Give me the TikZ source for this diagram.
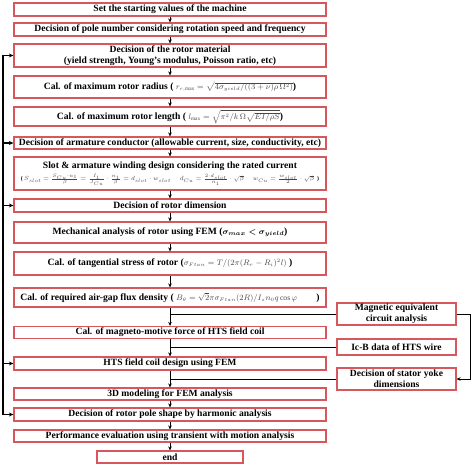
\documentclass[tikz,border=0pt]{standalone}
\usepackage{amsmath}
\usepackage{fontspec}
\setmainfont{Liberation Serif}
\usetikzlibrary{arrows.meta}
\definecolor{boxred}{RGB}{214,88,92}
\definecolor{mathgray}{RGB}{70,70,70}
\newcommand\eqm[1]{{\fontsize{7.6}{9}\selectfont\textcolor{mathgray}{\mdseries$#1$}}}
\newcommand\eqs[1]{\textcolor{mathgray}{\mdseries$#1$}}
\begin{document}
\begin{tikzpicture}[x=1pt,y=-1pt,
 mbox/.style={draw=boxred, line width=1.2pt, fill=white, minimum width=312pt, inner sep=0pt, align=center, font=\bfseries\fontsize{9.6}{11}\selectfont},
 sbox/.style={mbox, minimum width=119pt},
 arr/.style={-{Stealth[length=4pt,width=3.6pt]}, line width=1pt},
 fb/.style={line width=1.6pt},
 fbarr/.style={fb, -{Stealth[length=4.5pt,width=4pt]}},
 link/.style={line width=1pt},
]
\useasboundingbox (0,0) rectangle (474,468);

\node[mbox, minimum height=13pt] (b1) at (170,9.5) {Set the starting values of the machine};
\node[mbox, minimum height=13pt] (b2) at (170,29.5) {Decision of pole number considering rotation speed and frequency};
\node[mbox, minimum height=23pt] (b3) at (170,55.5) {Decision of the rotor material\\(yield strength, Young's modulus, Poisson ratio, etc)};
\node[mbox, minimum height=22pt] (b4) at (170,87) {Cal. of maximum rotor radius ( \eqm{r_{r,\max}=\sqrt{4\sigma_{yield}/((3+\nu)\rho\,\Omega^{2})}})};
\node[mbox, minimum height=19pt] (b5) at (170,116.5) {Cal. of maximum rotor length ( \eqm{l_{\max}=\sqrt{\pi^{2}/k\,\Omega\sqrt{EI/\rho S}}})};
\node[mbox, minimum height=12pt] (b6) at (170,143) {Decision of armature conductor (allowable current, size, conductivity, etc)};
\node[mbox, minimum height=33pt] (b7) at (170,173.5) {Slot \& armature winding design considering the rated current\\[1.5pt]
{\fontsize{5.8}{7}\selectfont ( \eqs{S_{slot}=\frac{S_{Cu}\cdot n_1}{\beta}=\frac{I_1}{J_{Cu}}\cdot\frac{n_1}{\beta}=d_{slot}\cdot w_{slot}}\quad\enspace
\eqs{d_{Cu}=\frac{2\cdot d_{slot}}{n_1}\cdot\sqrt{\beta}}\quad\enspace
\eqs{w_{Cu}=\frac{w_{slot}}{2}\cdot\sqrt{\beta}}\enspace )}};
\node[mbox, minimum height=13pt] (b8) at (170,205.5) {Decision of rotor dimension};
\node[mbox, minimum height=21pt] (b9) at (170,232.5) {Mechanical analysis of rotor using FEM ({\fontsize{8.4}{9}\selectfont$\boldsymbol{\sigma_{max}<\sigma_{yield}}$})};
\node[mbox, minimum height=23pt] (b10) at (170,263.5) {Cal. of tangential stress of rotor (\eqm{\sigma_{Ftan}=T/(2\pi(R_r-R_i)^{2}l)} )};
\node[mbox, minimum height=19pt] (b11) at (170,297.5) {Cal. of required air-gap flux density ( \eqm{B_{\theta}=\sqrt{2}\pi\sigma_{Ftan}(2R)/I_{z}n_{0}q\cos\varphi}\qquad )};
\node[mbox, minimum height=12pt] (b12) at (170,332.5) {Cal. of magneto-motive force of HTS field coil};
\node[mbox, minimum height=13pt] (b13) at (170,363.5) {HTS field coil design using FEM};
\node[mbox, minimum height=12pt] (b14) at (170,394) {3D modeling for FEM analysis};
\node[mbox, minimum height=13pt] (b15) at (170,414.5) {Decision of rotor pole shape by harmonic analysis};
\node[mbox, minimum height=12pt] (b16) at (170,436) {Performance evaluation using transient with motion analysis};
\node[mbox, minimum height=12pt, minimum width=146pt] (end) at (170,457) {end};

\node[sbox, minimum height=22pt] (s1) at (396.5,314) {Magnetic equivalent\\circuit analysis};
\node[sbox, minimum height=16pt] (s2) at (396.5,347) {Ic-B data of HTS wire};
\node[sbox, minimum height=22pt] (s3) at (396.5,379) {Decision of stator yoke\\dimensions};

\foreach \a/\b in {b1/b2,b2/b3,b3/b4,b4/b5,b5/b6,b6/b7,b7/b8,b8/b9,b9/b10,b10/b11,b11/b12,b12/b13,b13/b14,b14/b15,b15/b16,b16/end}
  \draw[arr] (\a.south) -- (\b.north);

\draw[link] (s1.west) -- (s1.west -| b11.south);
\draw[link] (s2.west) -- (s2.west -| b12.south);
\draw[link] (s3.west) -- (s3.west -| b13.south);

\coordinate (rc) at (470,0);
\draw[arr, line width=0.8pt] (s1.east) -- (s1.east -| rc) -- (s3.east -| rc) -- (s3.east);

\coordinate (fx) at (3,0);
\draw[fb] (b3.west -| fx) -- (b15.west -| fx);
\foreach \n in {b3,b6,b8,b13,b15}
  \draw[fbarr] (\n.west -| fx) -- (\n.west);
\end{tikzpicture}
\end{document}
